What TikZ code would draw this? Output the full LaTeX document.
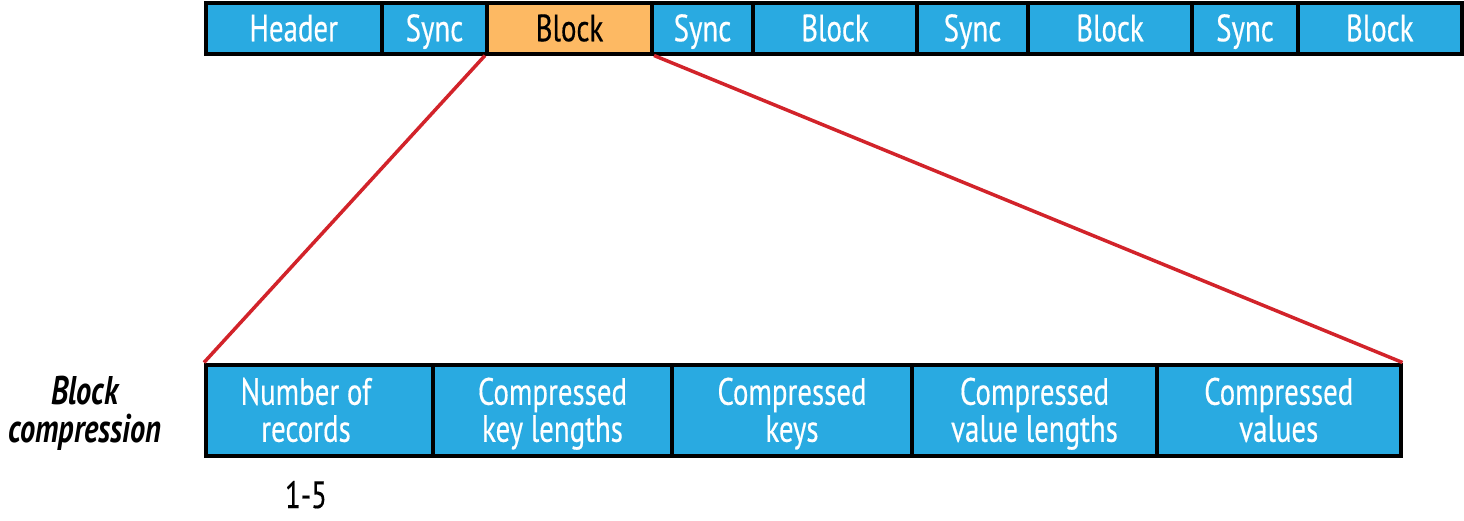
\documentclass[tikz,border=0pt]{standalone}
\usepackage{fontspec}
\setmainfont[FakeStretch=0.76,UprightFeatures={FakeBold=0.4}]{PT Sans}
\definecolor{cellblue}{RGB}{41,170,225}
\definecolor{cellorange}{RGB}{253,185,99}
\definecolor{zoomred}{RGB}{210,35,42}
\tikzset{
  cell/.style={draw=black, line width=4pt, fill=cellblue, text=white, inner sep=0pt,
    font=\fontsize{38}{37}\selectfont, minimum height=51pt},
  topcell/.style={cell, text height=26.5pt, text depth=0pt},
  selcell/.style={topcell, fill=cellorange, text=black},
  botcell/.style={cell, minimum height=91.5pt, align=center, text height=63pt, text depth=0pt},
  celltext/.style={text=white, inner sep=0pt, font=\fontsize{38}{37}\selectfont, align=center,
    text height=63pt, text depth=0pt},
  zoomline/.style={draw=zoomred, line width=3.5pt},
  sidelabel/.style={font=\fontsize{40}{38}\selectfont\bfseries\itshape, align=center, inner sep=0pt,
    text height=66pt, text depth=0pt},
  note/.style={font=\fontsize{38}{37}\selectfont, inner sep=0pt}
}
\begin{document}
\begin{tikzpicture}[x=1pt,y=-1pt]
\useasboundingbox (0,0) rectangle (1464,520);
% top bar
\node[topcell, minimum width=176.5pt] (h)  at (293.75,28) {Header};
\node[topcell, minimum width=105pt]   (s1) at (434.5,28) {Sync};
\node[selcell, minimum width=165pt]   (b1) at (569.5,28) {Block};
\node[topcell, minimum width=101pt]   (s2) at (702.5,28) {Sync};
\node[topcell, minimum width=164pt]   (b2) at (835,28) {Block};
\node[topcell, minimum width=111pt]   (s3) at (972.5,28) {Sync};
\node[topcell, minimum width=164pt]   (b3) at (1110,28) {Block};
\node[topcell, minimum width=106pt]   (s4) at (1245,28) {Sync};
\node[topcell, minimum width=163.5pt] (b4) at (1379.75,28) {Block};
% bottom bar
\node[botcell, minimum width=227pt] (c1) at (319.5,410.25) {};
\node[celltext] (c1t) at (306,410.25) {Number of\\records};
\node[botcell, minimum width=239pt] (c2) at (552.5,410.25) {Compressed\\key lengths};
\node[botcell, minimum width=240pt] (c3) at (792,410.25) {Compressed\\keys};
\node[botcell, minimum width=245pt] (c4) at (1034.5,410.25) {Compressed\\value lengths};
\node[botcell, minimum width=243.5pt] (c5) at (1278.75,410.25) {Compressed\\values};
% zoom lines
\draw[zoomline] (b1.south west) -- (c1.north west);
\draw[zoomline] (b1.south east) -- (c5.north east);
% labels
\node[sidelabel] (lab) at (85,409) {Block\\compression};
\node[note, anchor=base] (n15) at (306,508) {1-5};
\end{tikzpicture}
\end{document}
